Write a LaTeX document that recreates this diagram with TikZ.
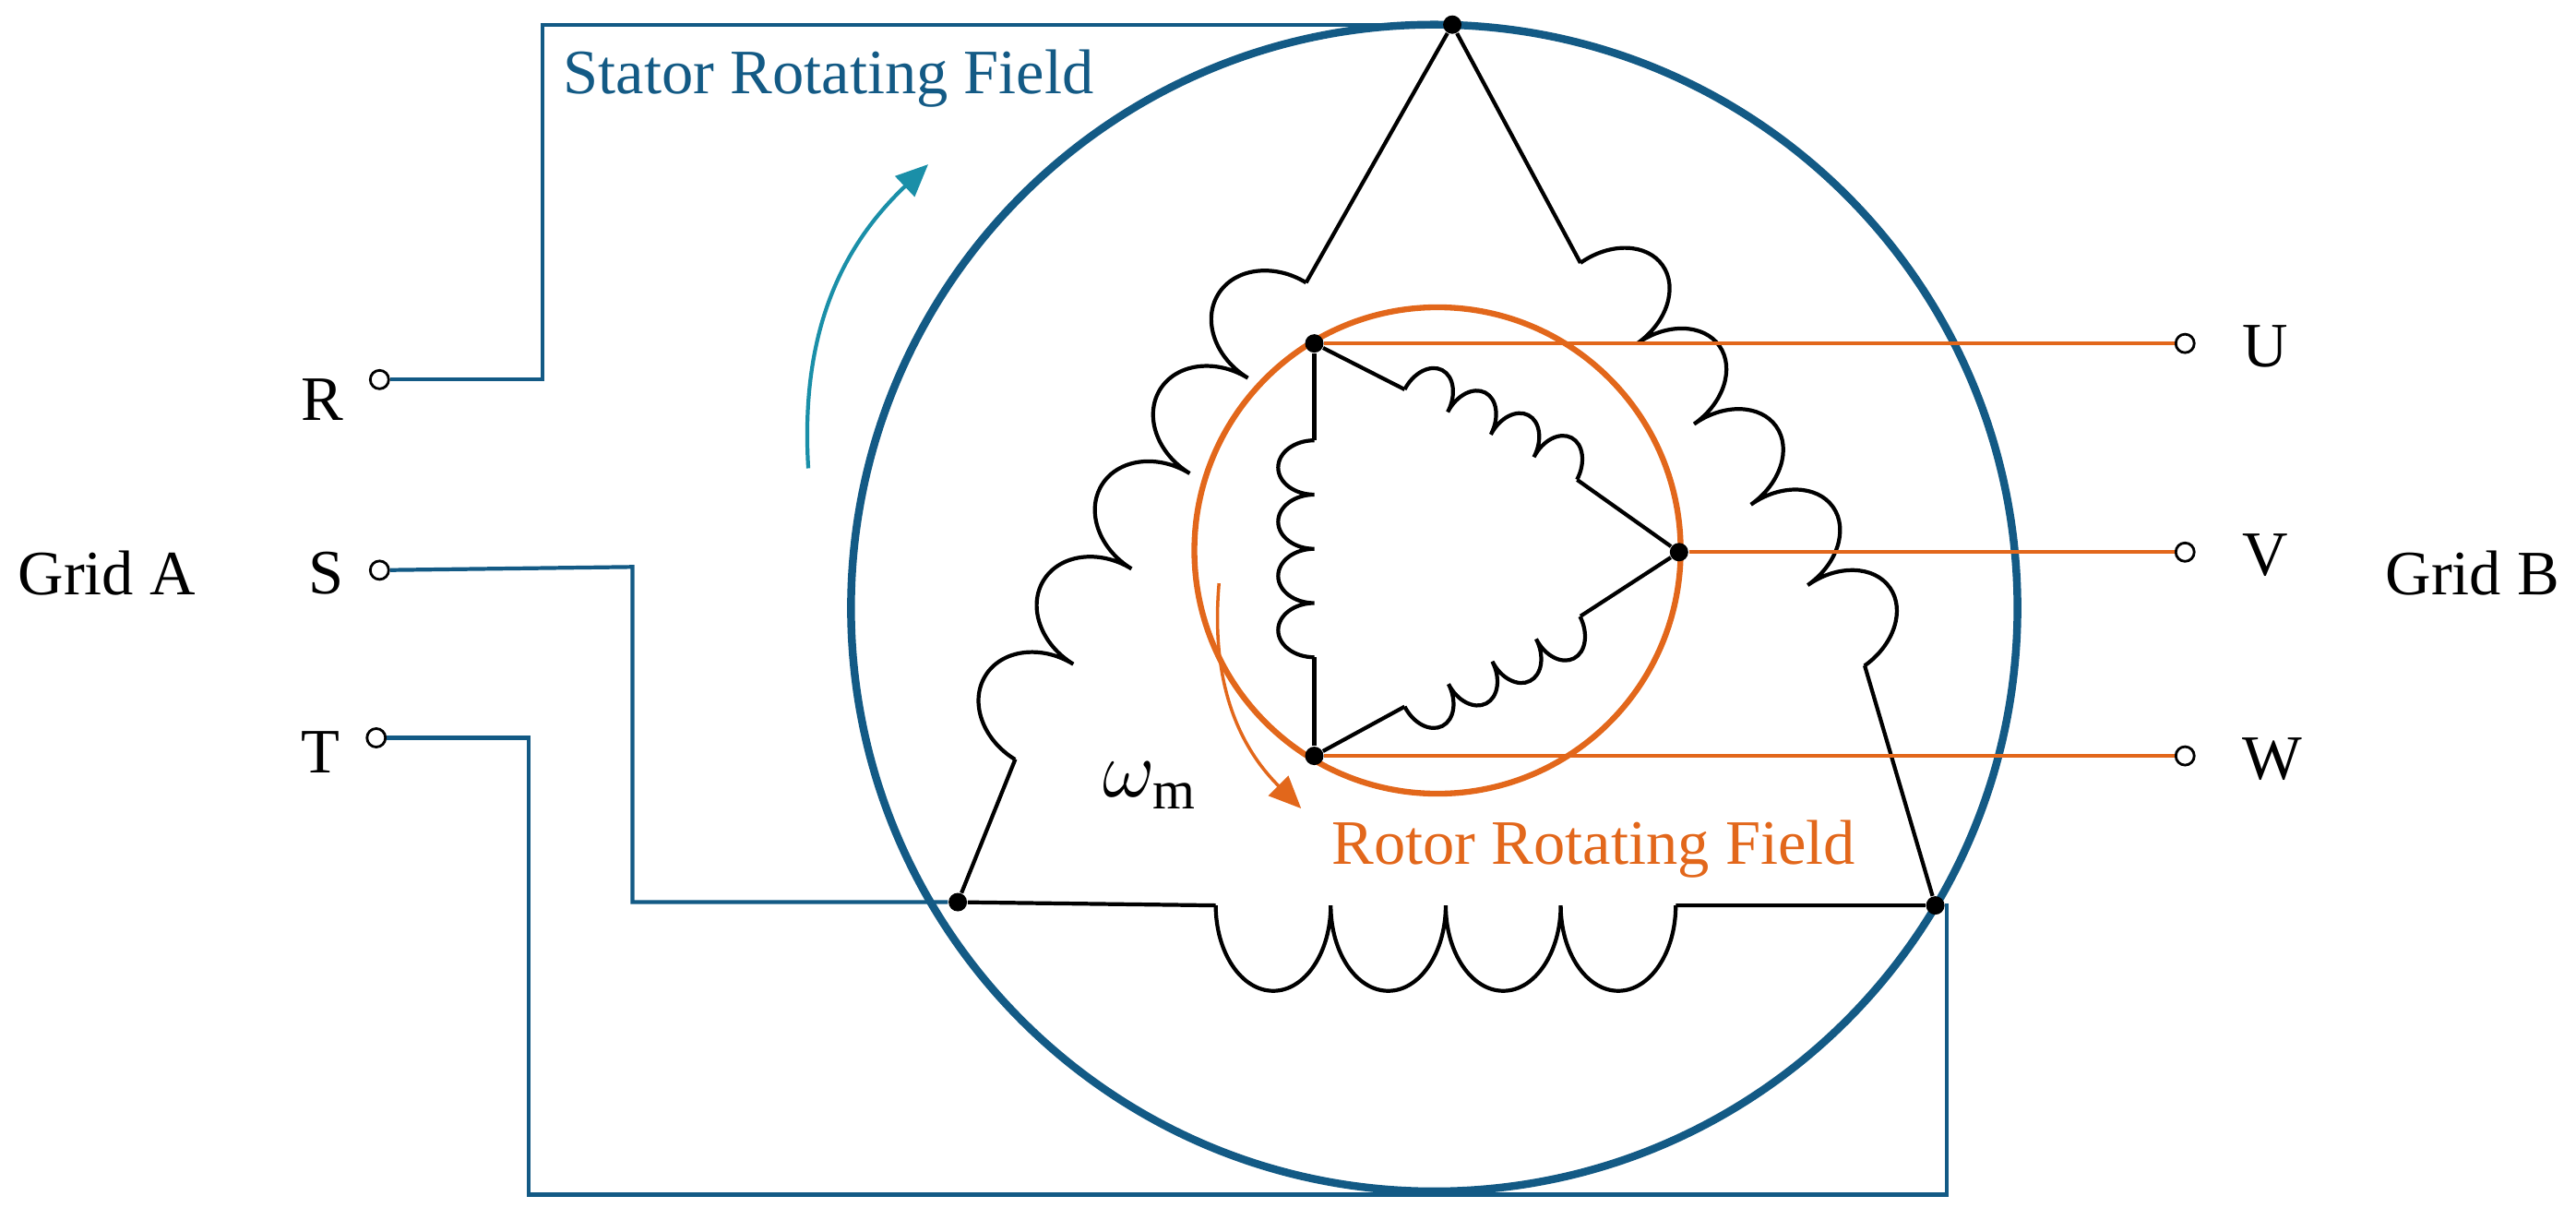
\documentclass[tikz,border=0pt]{standalone}
\usepackage{fontspec}
\setmainfont{Liberation Serif}
\usetikzlibrary{arrows.meta}
\definecolor{statorblue}{HTML}{135A85}
\definecolor{rotororange}{HTML}{E2671B}
\definecolor{fieldteal}{HTML}{1A8FA8}
% chain of bumps: start, angle, count, half width, height, end angle
\newcommand\bumpcoil[6]{%
  \begin{scope}[shift={(#1)}, rotate=#2]
    \draw[line width=1.2pt] (0,0) foreach \k in {1,...,#3} {arc[start angle=180, end angle=#6, x radius=#4, y radius=#5]};
  \end{scope}}
\begin{document}
\begin{tikzpicture}[x=0.017806cm,y=-0.017806cm,
    dot/.style = {circle, fill, inner sep=0pt, minimum size=0.2cm},
    term/.style = {circle, draw, fill=white, inner sep=0pt, minimum size=0.2cm, line width=0.8pt},
    wire/.style = {statorblue, line width=1.2pt},
    rwire/.style = {rotororange, line width=1.2pt},
    lbl/.style = {font=\fontsize{19.5}{23}\selectfont}]
    \useasboundingbox (0,0) rectangle (1568,742);

    % circles
    \draw[statorblue, line width=2.4pt] (873,370) circle (355);
    \draw[rotororange, line width=1.8pt] (875,335) circle (148);

    % stator nodes
    \node[dot] (st) at (884,15) {};
    \node[dot] (sl) at (583,549) {};
    \node[dot] (sr) at (1178,551) {};
    \coordinate (l1) at (795,172);
    \coordinate (l2) at (618,462);
    \coordinate (r1) at (962,160);
    \coordinate (r2) at (1135,405);
    \coordinate (b1) at (740,551);
    \coordinate (b2) at (1020,551);

    \draw[line width=1.2pt] (st) -- (l1) (l2) -- (sl);
    \draw[line width=1.2pt] (st) -- (r1) (r2) -- (sr);
    \draw[line width=1.2pt] (sl) -- (b1) (b2) -- (sr);
    \bumpcoil{l1}{-121.4}{5}{34}{42}{0}
    \bumpcoil{r1}{-54.8}{5}{30}{40}{360}
    \bumpcoil{b1}{0}{4}{35}{52}{0}

    % rotor nodes
    \node[dot] (ru) at (800,209) {};
    \node[dot] (rv) at (1022,336) {};
    \node[dot] (rw) at (800,460) {};
    \coordinate (c1) at (800,268);
    \coordinate (c2) at (800,400);
    \coordinate (c3) at (855,237);
    \coordinate (c4) at (960,292);
    \coordinate (c5) at (855,430);
    \coordinate (c6) at (962,375);
    \draw[line width=1.2pt] (ru) -- (c1) (c2) -- (rw);
    \draw[line width=1.2pt] (ru) -- (c3) (c4) -- (rv);
    \draw[line width=1.2pt] (rw) -- (c5) (c6) -- (rv);
    \bumpcoil{c1}{-90}{4}{16.5}{22}{0}
    \bumpcoil{c3}{-27.6}{4}{14.8}{21}{360}
    \bumpcoil{c5}{27.2}{4}{15}{21}{0}

    % rotor terminals
    \node[term] (tu) at (1330,209) {};
    \node[term] (tv) at (1330,336) {};
    \node[term] (tw) at (1330,460) {};
    \draw[rwire] (ru) -- (tu);
    \draw[rwire] (rv) -- (tv);
    \draw[rwire] (rw) -- (tw);
    \node[lbl, anchor=west] at (1358,211) {U};
    \node[lbl, anchor=west] at (1358,338) {V};
    \node[lbl, anchor=west] at (1358,462) {W};

    % stator terminals
    \node[term] (tr) at (231,231) {};
    \node[term] (ts) at (231,347) {};
    \node[term] (tt) at (229,449) {};
    \draw[wire] (tr) -- (330,231) -- (330,15) -- (st);
    \draw[wire] (ts) -- (385,345) -- (385,549) -- (sl);
    \draw[wire] (tt) -- (322,449) -- (322,727) -- (1185,727) -- (1185,551) -- (sr);
    \node[lbl, anchor=east] at (216,243) {R};
    \node[lbl, anchor=east] at (216,349) {S};
    \node[lbl, anchor=east] at (214,458) {T};

    \node[lbl] at (65,349) {Grid A};
    \node[lbl] at (1505,349) {Grid B};

    % fields
    \node[lbl, statorblue, anchor=west] at (336,48) {Stator Rotating Field};
    \draw[fieldteal, line width=1.2pt, -{Triangle[length=0.35cm,width=0.3cm]}]
        (492,285) to[bend left=25] (565,100);
    \draw[rotororange, line width=1pt, -{Triangle[length=0.35cm,width=0.3cm]}]
        (742,355) to[bend right=25] (792,492);
    \node[font=\fontsize{24}{28}\selectfont] at (700,478) {$\omega_{\mathrm{m}}$};
    \node[lbl, rotororange] at (970,517) {Rotor Rotating Field};
\end{tikzpicture}
\end{document}
